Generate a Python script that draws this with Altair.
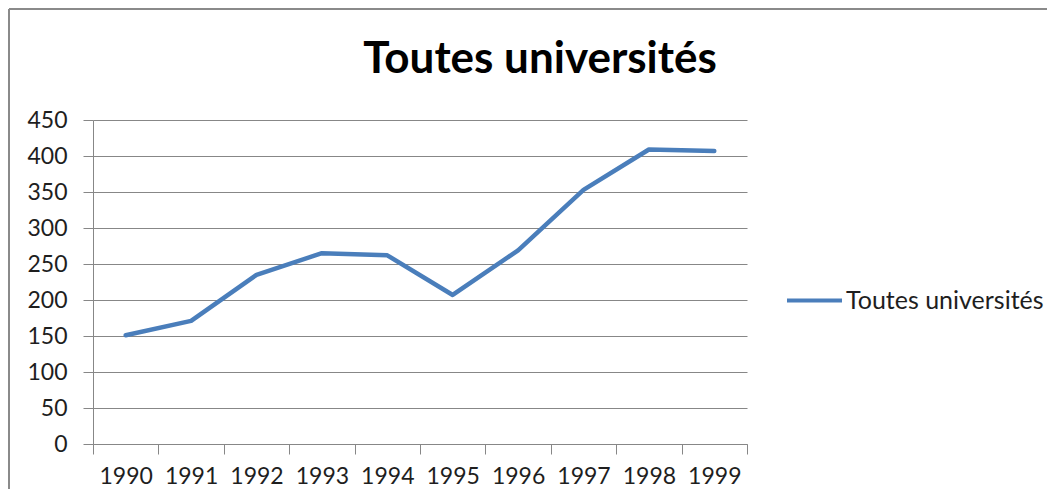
import altair as alt
import pandas as pd

years = ["1990", "1991", "1992", "1993", "1994", "1995", "1996", "1997", "1998", "1999"]
values = [151, 171, 235, 265, 262, 207, 269, 353, 409, 407]
series_name = "Toutes universités"
title_text = "Toutes universités"
y_ticks = [0, 50, 100, 150, 200, 250, 300, 350, 400, 450]

df = pd.DataFrame({"Année": years, "Valeur": values, "Série": [series_name] * len(years)})
title_df = pd.DataFrame({"t": [title_text]})

FONT = "Lato"
GREY = "#878787"
TEXT = "#1e1e1e"
BLUE = "#4a7ebb"

line = alt.Chart(df).mark_line(strokeWidth=4.5, strokeCap="round", strokeJoin="round").encode(
    x=alt.X("Année:N", sort=years,
            scale=alt.Scale(type="band", paddingInner=0, paddingOuter=0),
            axis=alt.Axis(title=None, labelAngle=0, tickBand="extent", grid=False,
                          domainColor=GREY, tickColor=GREY, tickSize=10,
                          labelFont=FONT, labelFontSize=23, labelColor=TEXT,
                          labelPadding=11)),
    y=alt.Y("Valeur:Q", scale=alt.Scale(domain=[0, 450], nice=False),
            axis=alt.Axis(title=None, values=y_ticks, grid=True, gridColor=GREY,
                          domainColor=GREY, tickColor=GREY, tickSize=10,
                          labelFont=FONT, labelFontSize=23, labelColor=TEXT,
                          labelPadding=16)),
    color=alt.Color("Série:N", scale=alt.Scale(range=[BLUE]),
                    legend=alt.Legend(title=None, orient="none", legendX=692, legendY=151,
                                      symbolType="stroke", symbolStrokeWidth=4,
                                      symbolSize=3025, padding=0, symbolOffset=0,
                                      labelFont=FONT, labelFontSize=25, labelColor=TEXT,
                                      labelOffset=2, labelLimit=400)),
)

title = alt.Chart(title_df).mark_text(
    font=FONT, fontSize=44, fontWeight="bold", color="#000000",
    align="center", baseline="alphabetic").encode(
    text="t:N", x=alt.value(447), y=alt.value(-47))

frame_top = alt.Chart(df).mark_rule(color="#8a8a8a", strokeWidth=2).encode(
    x=alt.value(-84), x2=alt.value(1000), y=alt.value(-111))
frame_left = alt.Chart(df).mark_rule(color="#8a8a8a", strokeWidth=2).encode(
    x=alt.value(-84), y=alt.value(-111), y2=alt.value(400))

chart = alt.layer(frame_top, frame_left, title, line).properties(
    width=654, height=324,
    autosize=alt.AutoSizeParams(type="none"),
    padding={"left": 85, "top": 112, "right": 300, "bottom": 45},
).configure_view(stroke=None)

chart.save("out.html", embed_options={"renderer": "svg", "actions": False})
